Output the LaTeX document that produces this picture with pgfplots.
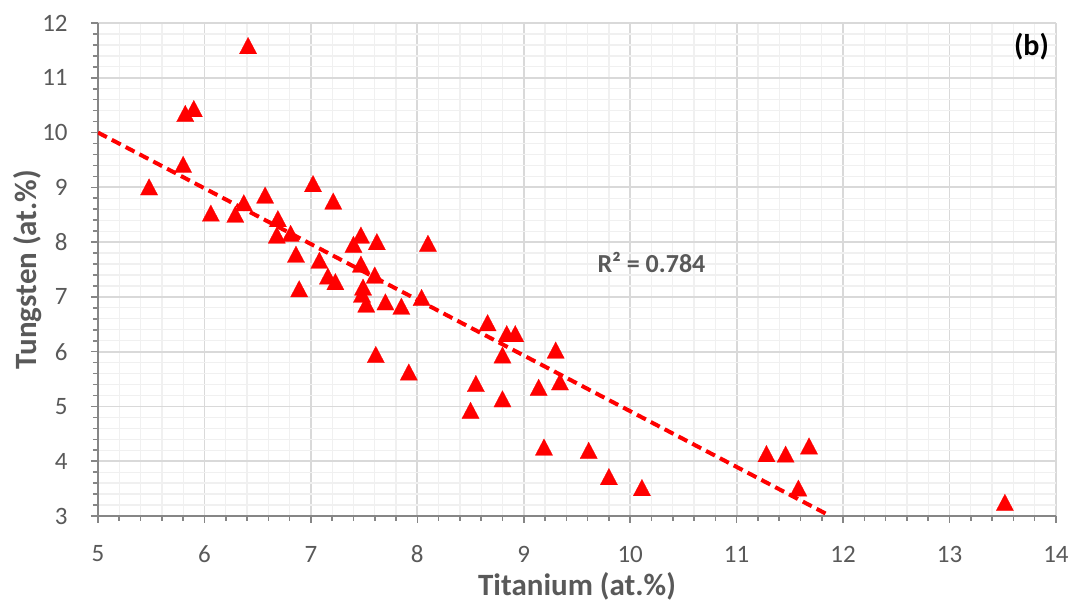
\documentclass[border=0pt]{standalone}
\usepackage{fontspec}
\setmainfont{Carlito}
\usepackage{pgfplots}
\pgfplotsset{compat=1.18}
\definecolor{tickgray}{HTML}{595959}
\definecolor{axgray}{HTML}{868686}
\definecolor{majgrid}{HTML}{D9D9D9}
\definecolor{mingrid}{HTML}{F0F0F0}
\pgfplotstableread{
x y
5.48 9.01
5.80 9.42
5.82 10.35
5.90 10.44
6.41 11.59
6.06 8.53
6.29 8.51
6.37 8.72
6.57 8.86
6.69 8.43
6.68 8.13
6.81 8.16
6.86 7.78
6.89 7.15
7.02 9.07
7.21 8.75
7.08 7.67
7.16 7.38
7.23 7.28
7.40 7.96
7.47 8.13
7.47 7.60
7.62 8.01
7.60 7.40
7.49 7.18
7.48 7.05
7.52 6.87
7.70 6.91
7.85 6.83
8.04 6.99
8.10 7.98
7.61 5.95
7.92 5.63
8.66 6.53
8.84 6.33
8.92 6.33
8.80 5.94
9.30 6.03
8.55 5.42
8.50 4.93
8.80 5.14
9.14 5.35
9.34 5.45
9.19 4.26
9.61 4.20
9.80 3.72
10.11 3.52
11.28 4.14
11.46 4.13
11.68 4.28
11.58 3.51
13.52 3.25
}\datatable
\begin{document}
\begin{tikzpicture}
\useasboundingbox (-49pt,-46pt) rectangle (487.5pt,258pt);
\begin{axis}[
  at={(0,0)}, anchor=south west,
  scale only axis, width=479pt, height=246.5pt,
  xmin=5, xmax=14, ymin=3, ymax=12,
  xtick={5,6,...,14}, ytick={3,4,...,12},
  minor tick num=4,
  grid=both,
  major grid style={majgrid, line width=0.85pt},
  minor grid style={mingrid, line width=0.65pt},
  axis x line=bottom, axis y line=left,
  axis line style={-, axgray, line width=1pt},
  tick align=outside,
  major tick length=3.5pt, minor tick length=2.5pt,
  tick style={axgray, line width=0.8pt},
  /pgf/number format/assume math mode=true,
  ticklabel style={font=\fontsize{12.5}{14}\selectfont, text=tickgray},
  xticklabel style={anchor=center, yshift=-15.5pt, inner sep=0pt},
  yticklabel style={anchor=east, xshift=-11.5pt, inner sep=0pt},
  xlabel={Titanium (at.\%)}, ylabel={Tungsten (at.\%)},
  label style={font=\bfseries\fontsize{15.5}{18}\selectfont, text=tickgray},
  xlabel style={at={(axis description cs:0.5,-0.142)}, anchor=center},
  ylabel style={at={(axis description cs:-0.0736,0.5)}, anchor=center},
]
\addplot[only marks, mark=triangle*, mark size=5pt, color=red,
  mark options={fill=red, draw=red, line width=0.1pt, yshift=-1.4pt, yscale=1.1}]
  table[x=x, y=y] {\datatable};
\addplot[red, line width=2pt, dash pattern=on 5pt off 2.8pt] coordinates {(5,10.0) (11.88,3.0)};
\node[font=\bfseries\fontsize{13}{15}\selectfont, text=tickgray] at (axis cs:10.2,7.62) {R² = 0.784};
\node[font=\bfseries\fontsize{15}{18}\selectfont, text=black] at (axis cs:13.77,11.56) {(b)};
\end{axis}
\end{tikzpicture}
\end{document}
